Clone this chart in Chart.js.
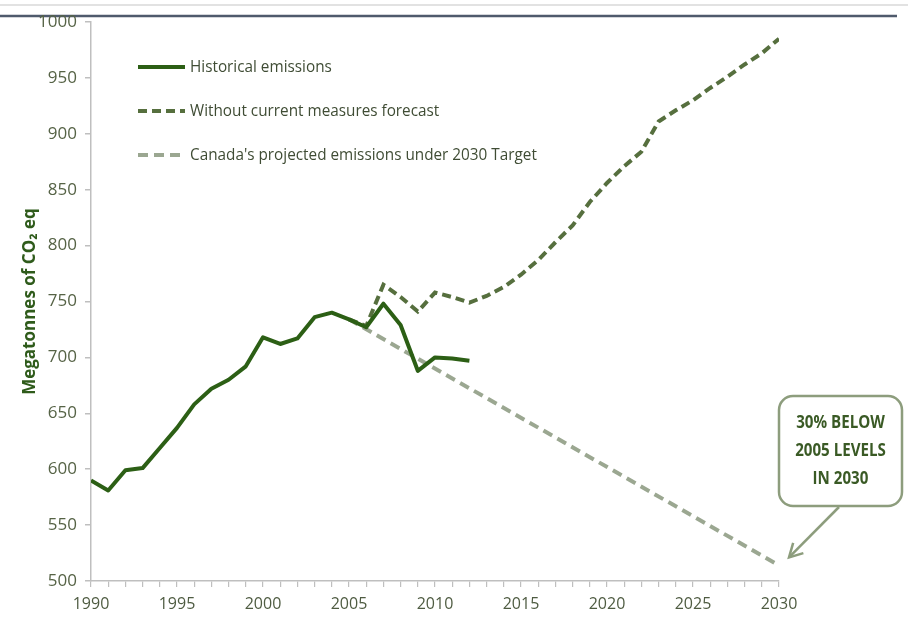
<!DOCTYPE html>
<html>
<head>
<meta charset="utf-8">
<script src="https://cdn.jsdelivr.net/npm/chart.js@4.4.0/dist/chart.umd.min.js"></script>
<style>
  html, body { margin: 0; padding: 0; background: #fff; }
  #graph { width: 908px; height: 643px; }
</style>
</head>
<body>
<div id="graph"><canvas id="line-chart" width="908" height="643"></canvas></div>
<script>
// values (Mt CO2 eq)
const histYears = [1990, 1991, 1992, 1993, 1994, 1995, 1996, 1997, 1998, 1999, 2000, 2001,
  2002, 2003, 2004, 2005, 2006, 2007, 2008, 2009, 2010, 2011, 2012];
const histValues = [590, 581, 599, 601, 619, 637, 658, 672, 680, 692, 718, 712,
  717, 736, 740, 734, 727, 748, 729, 688, 700, 699, 697];

const forecastYears = [2005, 2006, 2007, 2008, 2009, 2010, 2011, 2012, 2013, 2014, 2015, 2016, 2017,
  2018, 2019, 2020, 2021, 2022, 2023, 2024, 2025, 2026, 2027, 2028, 2029, 2030];
const forecastValues = [734, 728, 765, 754, 741, 758, 754, 749, 755, 763, 774, 787, 803,
  818, 839, 856, 871, 884, 911, 921, 930, 941, 951, 962, 972, 985];

const targetYears = [2005, 2030];
const targetValues = [734, 514];

const seriesLabels = ["Historical emissions", "Without current measures forecast",
  "Canada's projected emissions under 2030 Target"];
const calloutLines = ["30% BELOW", "2005 LEVELS", "IN 2030"];

const yTitle = "Megatonnes of CO\u2082 eq";

const font = "'Open Sans', sans-serif";

function points(xs, ys) {
  return xs.map(function (x, i) { return { x: x, y: ys[i] }; });
}

// text squeezed a bit sideways, the original uses a narrow face
function narrowText(ctx, text, x, y, squeeze) {
  ctx.save();
  ctx.translate(x, y);
  ctx.scale(squeeze, 1);
  ctx.fillText(text, 0, 0);
  ctx.restore();
}

// thin lines across the top of the slide
const topLines = {
  id: "topLines",
  beforeDraw: function (chart) {
    const ctx = chart.ctx;
    ctx.save();
    ctx.fillStyle = "#fff";
    ctx.fillRect(0, 0, chart.width, chart.height);
    ctx.strokeStyle = "#d9d9d9";
    ctx.lineWidth = 1.5;
    ctx.beginPath();
    ctx.moveTo(0, 5); ctx.lineTo(chart.width, 5);
    ctx.stroke();
    ctx.strokeStyle = "#4f5a6c";
    ctx.lineWidth = 2.5;
    ctx.beginPath();
    ctx.moveTo(0, 16); ctx.lineTo(897, 16);
    ctx.stroke();
    ctx.restore();
  }
};

// legend drawn inside the plot, top left
const innerLegend = {
  id: "innerLegend",
  afterDatasetsDraw: function (chart) {
    const ctx = chart.ctx;
    const area = chart.chartArea;
    ctx.save();
    chart.data.datasets.forEach(function (ds, i) {
      const y = area.top + 45 + i * 44;
      const x0 = area.left + 47;
      ctx.strokeStyle = ds.borderColor;
      ctx.lineWidth = ds.borderWidth;
      ctx.setLineDash(ds.borderDash || []);
      ctx.beginPath();
      ctx.moveTo(x0, y);
      ctx.lineTo(x0 + 47, y);
      ctx.stroke();
      ctx.setLineDash([]);
      ctx.fillStyle = "#3f4c34";
      ctx.font = "17px " + font;
      ctx.textBaseline = "middle";
      ctx.textAlign = "left";
      narrowText(ctx, ds.label, x0 + 52, y, 0.9);
    });
    ctx.restore();
  }
};

// rounded callout box with arrow to the 2030 target
const callout = {
  id: "callout",
  afterDraw: function (chart) {
    const ctx = chart.ctx;
    const xs = chart.scales.x, ys = chart.scales.y;
    const tipX = xs.getPixelForValue(2030) + 10;
    const tipY = ys.getPixelForValue(targetValues[targetValues.length - 1]) - 8;
    const bx = chart.chartArea.right, by = 396, bw = 123, bh = 110;
    ctx.save();
    ctx.strokeStyle = "#8d9d7d";
    ctx.lineWidth = 2.5;
    ctx.fillStyle = "#fff";
    ctx.beginPath();
    ctx.roundRect(bx, by, bw, bh, 14);
    ctx.fill();
    ctx.stroke();

    const sx = bx + 60, sy = by + bh + 1;
    ctx.beginPath();
    ctx.moveTo(sx, sy);
    ctx.lineTo(tipX, tipY);
    ctx.stroke();
    const ang = Math.atan2(sy - tipY, sx - tipX);
    ctx.beginPath();
    ctx.moveTo(tipX + 15 * Math.cos(ang - 0.5), tipY + 15 * Math.sin(ang - 0.5));
    ctx.lineTo(tipX, tipY);
    ctx.lineTo(tipX + 15 * Math.cos(ang + 0.5), tipY + 15 * Math.sin(ang + 0.5));
    ctx.stroke();

    ctx.fillStyle = "#3a5a25";
    ctx.font = "bold 18px " + font;
    ctx.textAlign = "center";
    ctx.textBaseline = "middle";
    calloutLines.forEach(function (t, i) {
      narrowText(ctx, t, bx + bw / 2, by + 27 + i * 28, 0.84);
    });
    ctx.restore();
  }
};

new Chart(document.getElementById("line-chart"), {
  type: "line",
  data: {
    datasets: [
      {
        label: seriesLabels[0],
        data: points(histYears, histValues),
        borderColor: "#2c5f15",
        borderWidth: 4,
        borderJoinStyle: "round"
      },
      {
        label: seriesLabels[1],
        data: points(forecastYears, forecastValues),
        borderColor: "#566f3e",
        borderWidth: 4,
        borderDash: [9, 5]
      },
      {
        label: seriesLabels[2],
        data: points(targetYears, targetValues),
        borderColor: "#9ba791",
        borderWidth: 4,
        borderDash: [10, 6]
      }
    ]
  },
  options: {
    responsive: false,
    animation: false,
    layout: { padding: { top: 22, right: 129, left: 0, bottom: 0 } },
    elements: { point: { radius: 0 }, line: { tension: 0 } },
    plugins: {
      legend: { display: false },
      tooltip: { enabled: false }
    },
    scales: {
      x: {
        type: "linear",
        min: 1990,
        max: 2030,
        ticks: {
          stepSize: 1,
          autoSkip: false,
          maxRotation: 0,
          padding: 8,
          color: "#4f5c42",
          font: { family: font, size: 16 },
          callback: function (v) { return v % 5 === 0 ? String(v) : ""; }
        },
        grid: { drawOnChartArea: false, drawTicks: true, tickLength: 6, color: "#bfbfbf", lineWidth: 1.2 },
        border: { color: "#bfbfbf", width: 1.5 },
        afterFit: function (s) { s.height = 62; }
      },
      y: {
        min: 500,
        max: 1000,
        ticks: {
          stepSize: 50,
          padding: 8,
          color: "#566346",
          font: { family: font, size: 17 },
          callback: function (v) { return String(v); }
        },
        grid: { drawOnChartArea: false, drawTicks: true, tickLength: 6, color: "#bfbfbf", lineWidth: 1.5 },
        border: { color: "#bfbfbf", width: 1.5 },
        title: {
          display: true,
          text: yTitle,
          color: "#2f5b1b",
          font: { family: font, size: 17, weight: "bold" },
          padding: { top: 20 }
        },
        afterFit: function (s) { s.width = 91; }
      }
    }
  },
  plugins: [topLines, innerLegend, callout]
});
</script>
</body>
</html>
